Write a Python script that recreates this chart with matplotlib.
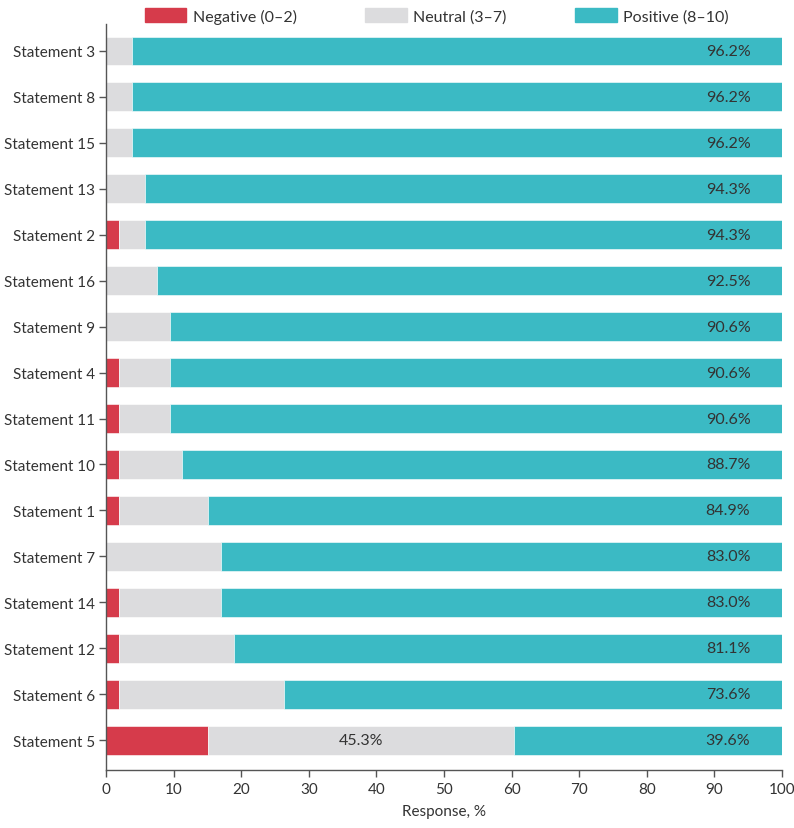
import matplotlib.pyplot as plt
from matplotlib.patches import Patch

plt.rcParams["font.family"] = ["Lato", "DejaVu Sans"]

# Data (top to bottom as shown)
statements = ["Statement 3", "Statement 8", "Statement 15", "Statement 13", "Statement 2",
              "Statement 16", "Statement 9", "Statement 4", "Statement 11", "Statement 10",
              "Statement 1", "Statement 7", "Statement 14", "Statement 12", "Statement 6",
              "Statement 5"]
negative = [0.0, 0.0, 0.0, 0.0, 1.9, 0.0, 0.0, 1.9, 1.9, 1.9, 1.9, 0.0, 1.9, 1.9, 1.9, 15.1]
positive = [96.2, 96.2, 96.2, 94.3, 94.3, 92.5, 90.6, 90.6, 90.6, 88.7, 84.9, 83.0, 83.0,
            81.1, 73.6, 39.6]
neutral = [round(100 - n - p, 1) for n, p in zip(negative, positive)]

RED = "#d63b4b"
GREY = "#dcdcde"
TEAL = "#3bbac4"
TXT = "#333333"

fig = plt.figure(figsize=(7.94, 8.29), dpi=100)
ax = fig.add_axes([0.1335, 0.070, 0.8515, 0.900])

n = len(statements)
y = [n - 1 - i for i in range(n)]
h = 0.63
ax.barh(y, negative, height=h, color=RED, edgecolor="white", linewidth=0.4)
ax.barh(y, neutral, left=negative, height=h, color=GREY, edgecolor="white", linewidth=0.4)
left_pos = [a + b for a, b in zip(negative, neutral)]
ax.barh(y, positive, left=left_pos, height=h, color=TEAL, edgecolor="white", linewidth=0.4)

# value labels
for yi, p in zip(y, positive):
    ax.text(92, yi, f"{p:.1f}%", ha="center", va="center", fontsize=11.5, color=TXT)
# neutral label only for statement 5
i5 = statements.index("Statement 5")
ax.text(negative[i5] + neutral[i5] / 2, y[i5], f"{neutral[i5]:.1f}%",
        ha="center", va="center", fontsize=11.5, color=TXT)

ax.set_yticks(y)
ax.set_yticklabels(statements)
ax.set_xlim(0, 100)
ax.set_ylim(-0.65, n - 1 + 0.59)
ax.set_xticks(range(0, 101, 10))
ax.set_xlabel("Response, %", fontsize=11, color=TXT, labelpad=6)

for s in ["top", "right"]:
    ax.spines[s].set_visible(False)
for s in ["left", "bottom"]:
    ax.spines[s].set_color("#555555")
    ax.spines[s].set_linewidth(1.0)
ax.tick_params(axis="y", labelsize=11, colors=TXT, length=5, width=1, color="#555555", pad=3)
ax.tick_params(axis="x", labelsize=11, colors=TXT, length=5, width=1, color="#555555")

handles = [Patch(color=RED, label="Negative (0–2)"),
           Patch(color=GREY, label="Neutral (3–7)"),
           Patch(color=TEAL, label="Positive (8–10)")]
fig.legend(handles=handles, loc="upper center", bbox_to_anchor=(0.55, 1.006), ncol=3,
           frameon=False, fontsize=11.5, handlelength=2.6, handleheight=0.95,
           columnspacing=4.3, handletextpad=0.4, labelcolor=TXT)

fig.savefig("out.png", dpi=100)
